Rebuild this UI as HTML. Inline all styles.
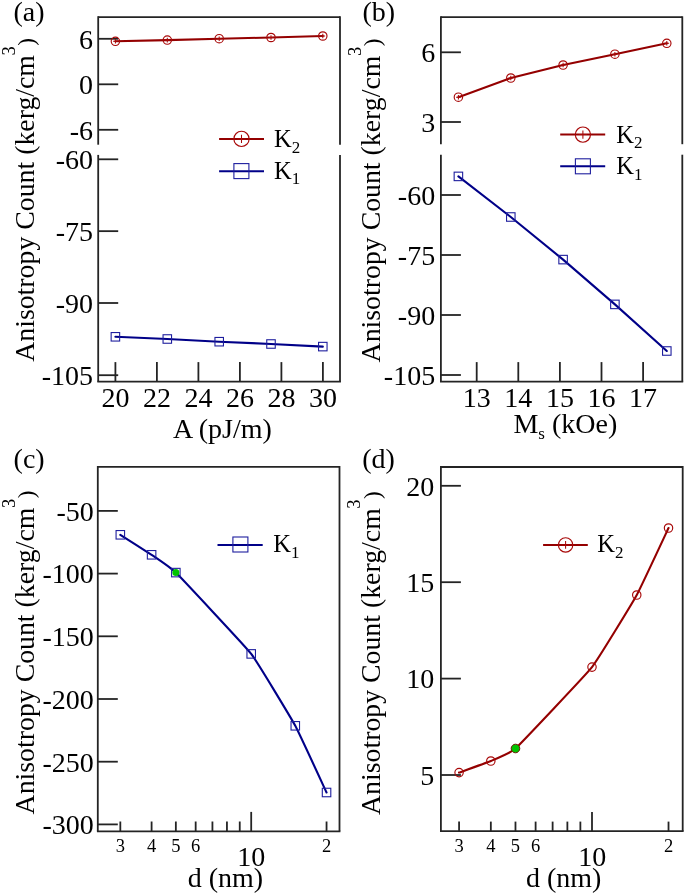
<!DOCTYPE html>
<html><head><meta charset="utf-8"><style>
html,body{margin:0;padding:0;background:#fff;}
body{width:685px;height:895px;overflow:hidden;}
svg{display:block;filter:blur(0.35px);}
text{font-family:"Liberation Serif", serif;}
</style></head><body>
<svg width="685" height="895" viewBox="0 0 685 895" font-family='"Liberation Serif", serif' fill="#000">
<rect width="685" height="895" fill="#fff"/>
<line x1="98.20" y1="17.10" x2="340.00" y2="17.10" stroke="#242424" stroke-width="1.8" stroke-linecap="butt"/>
<line x1="97.30" y1="381.70" x2="340.90" y2="381.70" stroke="#242424" stroke-width="1.8" stroke-linecap="butt"/>
<line x1="98.20" y1="16.20" x2="98.20" y2="144.70" stroke="#242424" stroke-width="1.8" stroke-linecap="butt"/>
<line x1="98.20" y1="154.90" x2="98.20" y2="381.70" stroke="#242424" stroke-width="1.8" stroke-linecap="butt"/>
<line x1="340.00" y1="16.20" x2="340.00" y2="144.70" stroke="#242424" stroke-width="1.8" stroke-linecap="butt"/>
<line x1="340.00" y1="154.90" x2="340.00" y2="381.70" stroke="#242424" stroke-width="1.8" stroke-linecap="butt"/>
<line x1="98.20" y1="38.80" x2="118.20" y2="38.80" stroke="#242424" stroke-width="1.8" stroke-linecap="butt"/>
<text x="93.10" y="48.60" font-size="28" text-anchor="end" >6</text>
<line x1="98.20" y1="84.30" x2="118.20" y2="84.30" stroke="#242424" stroke-width="1.8" stroke-linecap="butt"/>
<text x="93.10" y="94.10" font-size="28" text-anchor="end" >0</text>
<line x1="98.20" y1="129.80" x2="118.20" y2="129.80" stroke="#242424" stroke-width="1.8" stroke-linecap="butt"/>
<text x="93.10" y="139.60" font-size="28" text-anchor="end" >-6</text>
<line x1="98.20" y1="159.30" x2="118.20" y2="159.30" stroke="#242424" stroke-width="1.8" stroke-linecap="butt"/>
<text x="93.10" y="169.10" font-size="28" text-anchor="end" >-60</text>
<line x1="98.20" y1="231.15" x2="118.20" y2="231.15" stroke="#242424" stroke-width="1.8" stroke-linecap="butt"/>
<text x="93.10" y="240.95" font-size="28" text-anchor="end" >-75</text>
<line x1="98.20" y1="303.00" x2="118.20" y2="303.00" stroke="#242424" stroke-width="1.8" stroke-linecap="butt"/>
<text x="93.10" y="312.80" font-size="28" text-anchor="end" >-90</text>
<line x1="98.20" y1="375.20" x2="118.20" y2="375.20" stroke="#242424" stroke-width="1.8" stroke-linecap="butt"/>
<text x="93.10" y="385.00" font-size="28" text-anchor="end" >-105</text>
<line x1="115.40" y1="381.70" x2="115.40" y2="362.10" stroke="#242424" stroke-width="1.8" stroke-linecap="butt"/>
<text x="115.40" y="407.20" font-size="28" text-anchor="middle" >20</text>
<line x1="156.90" y1="381.70" x2="156.90" y2="362.10" stroke="#242424" stroke-width="1.8" stroke-linecap="butt"/>
<text x="156.90" y="407.20" font-size="28" text-anchor="middle" >22</text>
<line x1="198.40" y1="381.70" x2="198.40" y2="362.10" stroke="#242424" stroke-width="1.8" stroke-linecap="butt"/>
<text x="198.40" y="407.20" font-size="28" text-anchor="middle" >24</text>
<line x1="239.90" y1="381.70" x2="239.90" y2="362.10" stroke="#242424" stroke-width="1.8" stroke-linecap="butt"/>
<text x="239.90" y="407.20" font-size="28" text-anchor="middle" >26</text>
<line x1="281.40" y1="381.70" x2="281.40" y2="362.10" stroke="#242424" stroke-width="1.8" stroke-linecap="butt"/>
<text x="281.40" y="407.20" font-size="28" text-anchor="middle" >28</text>
<line x1="322.90" y1="381.70" x2="322.90" y2="362.10" stroke="#242424" stroke-width="1.8" stroke-linecap="butt"/>
<text x="322.90" y="407.20" font-size="28" text-anchor="middle" >30</text>
<text x="222.50" y="437.70" font-size="28" text-anchor="middle" >A (pJ/m)</text>
<text transform="translate(34.00,361.80) rotate(-90)" x="0" y="0" font-size="27.8">Anisotropy Count (kerg/cm<tspan font-size="18.5" dy="-19.5" dx="-0.4">3</tspan><tspan font-size="23" dy="19.5" dx="0.5">)</tspan></text>
<text x="13.50" y="20.60" font-size="28" text-anchor="start" >(a)</text>
<polyline points="115.40,41.30 167.30,40.10 219.20,38.70 271.00,37.50 322.80,36.00" fill="none" stroke="#940000" stroke-width="2.1" stroke-linejoin="round" stroke-linecap="round"/>
<circle cx="115.40" cy="41.30" r="4.2" fill="none" stroke="#a80808" stroke-width="1.15"/>
<path d="M113.09,41.30H117.71M115.40,38.99V43.61" stroke="#a80808" stroke-width="1.03"/>
<circle cx="167.30" cy="40.10" r="4.2" fill="none" stroke="#a80808" stroke-width="1.15"/>
<path d="M164.99,40.10H169.61M167.30,37.79V42.41" stroke="#a80808" stroke-width="1.03"/>
<circle cx="219.20" cy="38.70" r="4.2" fill="none" stroke="#a80808" stroke-width="1.15"/>
<path d="M216.89,38.70H221.51M219.20,36.39V41.01" stroke="#a80808" stroke-width="1.03"/>
<circle cx="271.00" cy="37.50" r="4.2" fill="none" stroke="#a80808" stroke-width="1.15"/>
<path d="M268.69,37.50H273.31M271.00,35.19V39.81" stroke="#a80808" stroke-width="1.03"/>
<circle cx="322.80" cy="36.00" r="4.2" fill="none" stroke="#a80808" stroke-width="1.15"/>
<path d="M320.49,36.00H325.11M322.80,33.69V38.31" stroke="#a80808" stroke-width="1.03"/>
<polyline points="115.40,336.80 167.30,339.00 219.20,341.70 271.00,344.00 322.80,346.60" fill="none" stroke="#000088" stroke-width="2.1" stroke-linejoin="round" stroke-linecap="round"/>
<rect x="111.15" y="332.55" width="8.5" height="8.5" fill="none" stroke="#1e1e9e" stroke-width="1.1"/>
<rect x="163.05" y="334.75" width="8.5" height="8.5" fill="none" stroke="#1e1e9e" stroke-width="1.1"/>
<rect x="214.95" y="337.45" width="8.5" height="8.5" fill="none" stroke="#1e1e9e" stroke-width="1.1"/>
<rect x="266.75" y="339.75" width="8.5" height="8.5" fill="none" stroke="#1e1e9e" stroke-width="1.1"/>
<rect x="318.55" y="342.35" width="8.5" height="8.5" fill="none" stroke="#1e1e9e" stroke-width="1.1"/>
<line x1="219.10" y1="138.90" x2="264.00" y2="138.90" stroke="#940000" stroke-width="2.0" stroke-linecap="butt"/>
<circle cx="241.50" cy="138.90" r="7.6" fill="none" stroke="#a80808" stroke-width="1.15"/>
<path d="M237.32,138.90H245.68M241.50,134.72V143.08" stroke="#a80808" stroke-width="1.03"/>
<text x="274.00" y="146.80" font-size="24.5">K<tspan font-size="17" dy="5.7">2</tspan></text>
<line x1="219.10" y1="171.20" x2="264.00" y2="171.20" stroke="#000088" stroke-width="2.0" stroke-linecap="butt"/>
<rect x="233.90" y="163.60" width="15.0" height="15.0" fill="none" stroke="#1e1e9e" stroke-width="1.1"/>
<text x="274.00" y="178.60" font-size="24.5">K<tspan font-size="17" dy="5.7">1</tspan></text>
<line x1="440.90" y1="17.20" x2="682.30" y2="17.20" stroke="#242424" stroke-width="1.8" stroke-linecap="butt"/>
<line x1="440.00" y1="381.70" x2="683.20" y2="381.70" stroke="#242424" stroke-width="1.8" stroke-linecap="butt"/>
<line x1="440.90" y1="16.30" x2="440.90" y2="144.20" stroke="#242424" stroke-width="1.8" stroke-linecap="butt"/>
<line x1="440.90" y1="154.70" x2="440.90" y2="381.70" stroke="#242424" stroke-width="1.8" stroke-linecap="butt"/>
<line x1="682.30" y1="16.30" x2="682.30" y2="144.20" stroke="#242424" stroke-width="1.8" stroke-linecap="butt"/>
<line x1="682.30" y1="154.70" x2="682.30" y2="381.70" stroke="#242424" stroke-width="1.8" stroke-linecap="butt"/>
<line x1="440.90" y1="52.30" x2="460.90" y2="52.30" stroke="#242424" stroke-width="1.8" stroke-linecap="butt"/>
<text x="435.20" y="62.10" font-size="28" text-anchor="end" >6</text>
<line x1="440.90" y1="122.00" x2="460.90" y2="122.00" stroke="#242424" stroke-width="1.8" stroke-linecap="butt"/>
<text x="435.20" y="131.80" font-size="28" text-anchor="end" >3</text>
<line x1="440.90" y1="195.00" x2="460.90" y2="195.00" stroke="#242424" stroke-width="1.8" stroke-linecap="butt"/>
<text x="435.20" y="204.80" font-size="28" text-anchor="end" >-60</text>
<line x1="440.90" y1="255.00" x2="460.90" y2="255.00" stroke="#242424" stroke-width="1.8" stroke-linecap="butt"/>
<text x="435.20" y="264.80" font-size="28" text-anchor="end" >-75</text>
<line x1="440.90" y1="315.00" x2="460.90" y2="315.00" stroke="#242424" stroke-width="1.8" stroke-linecap="butt"/>
<text x="435.20" y="324.80" font-size="28" text-anchor="end" >-90</text>
<line x1="440.90" y1="375.00" x2="460.90" y2="375.00" stroke="#242424" stroke-width="1.8" stroke-linecap="butt"/>
<text x="435.20" y="384.80" font-size="28" text-anchor="end" >-105</text>
<line x1="476.70" y1="381.70" x2="476.70" y2="362.10" stroke="#242424" stroke-width="1.8" stroke-linecap="butt"/>
<text x="476.70" y="407.20" font-size="28" text-anchor="middle" >13</text>
<line x1="518.30" y1="381.70" x2="518.30" y2="362.10" stroke="#242424" stroke-width="1.8" stroke-linecap="butt"/>
<text x="518.30" y="407.20" font-size="28" text-anchor="middle" >14</text>
<line x1="559.90" y1="381.70" x2="559.90" y2="362.10" stroke="#242424" stroke-width="1.8" stroke-linecap="butt"/>
<text x="559.90" y="407.20" font-size="28" text-anchor="middle" >15</text>
<line x1="601.50" y1="381.70" x2="601.50" y2="362.10" stroke="#242424" stroke-width="1.8" stroke-linecap="butt"/>
<text x="601.50" y="407.20" font-size="28" text-anchor="middle" >16</text>
<line x1="643.10" y1="381.70" x2="643.10" y2="362.10" stroke="#242424" stroke-width="1.8" stroke-linecap="butt"/>
<text x="643.10" y="407.20" font-size="28" text-anchor="middle" >17</text>
<text x="565.3" y="433.2" font-size="28" text-anchor="middle">M<tspan font-size="17" dy="5.5">s</tspan><tspan dy="-5.5"> (kOe)</tspan></text>
<text transform="translate(380.20,362.40) rotate(-90)" x="0" y="0" font-size="27.8">Anisotropy Count (kerg/cm<tspan font-size="18.5" dy="-19.5" dx="-0.4">3</tspan><tspan font-size="23" dy="19.5" dx="0.5">)</tspan></text>
<text x="362.50" y="20.80" font-size="28" text-anchor="start" >(b)</text>
<polyline points="458.40,97.20 510.80,78.00 563.10,65.00 614.90,54.20 666.80,43.30" fill="none" stroke="#940000" stroke-width="2.1" stroke-linejoin="round" stroke-linecap="round"/>
<circle cx="458.40" cy="97.20" r="4.2" fill="none" stroke="#a80808" stroke-width="1.15"/>
<path d="M456.09,97.20H460.71M458.40,94.89V99.51" stroke="#a80808" stroke-width="1.03"/>
<circle cx="510.80" cy="78.00" r="4.2" fill="none" stroke="#a80808" stroke-width="1.15"/>
<path d="M508.49,78.00H513.11M510.80,75.69V80.31" stroke="#a80808" stroke-width="1.03"/>
<circle cx="563.10" cy="65.00" r="4.2" fill="none" stroke="#a80808" stroke-width="1.15"/>
<path d="M560.79,65.00H565.41M563.10,62.69V67.31" stroke="#a80808" stroke-width="1.03"/>
<circle cx="614.90" cy="54.20" r="4.2" fill="none" stroke="#a80808" stroke-width="1.15"/>
<path d="M612.59,54.20H617.21M614.90,51.89V56.51" stroke="#a80808" stroke-width="1.03"/>
<circle cx="666.80" cy="43.30" r="4.2" fill="none" stroke="#a80808" stroke-width="1.15"/>
<path d="M664.49,43.30H669.11M666.80,40.99V45.61" stroke="#a80808" stroke-width="1.03"/>
<polyline points="458.40,176.40 510.80,217.00 563.10,259.60 614.90,304.40 666.80,351.00" fill="none" stroke="#000088" stroke-width="2.1" stroke-linejoin="round" stroke-linecap="round"/>
<rect x="454.15" y="172.15" width="8.5" height="8.5" fill="none" stroke="#1e1e9e" stroke-width="1.1"/>
<rect x="506.55" y="212.75" width="8.5" height="8.5" fill="none" stroke="#1e1e9e" stroke-width="1.1"/>
<rect x="558.85" y="255.35" width="8.5" height="8.5" fill="none" stroke="#1e1e9e" stroke-width="1.1"/>
<rect x="610.65" y="300.15" width="8.5" height="8.5" fill="none" stroke="#1e1e9e" stroke-width="1.1"/>
<rect x="662.55" y="346.75" width="8.5" height="8.5" fill="none" stroke="#1e1e9e" stroke-width="1.1"/>
<line x1="560.20" y1="134.60" x2="605.20" y2="134.60" stroke="#940000" stroke-width="2.0" stroke-linecap="butt"/>
<circle cx="582.90" cy="134.60" r="7.6" fill="none" stroke="#a80808" stroke-width="1.15"/>
<path d="M578.72,134.60H587.08M582.90,130.42V138.78" stroke="#a80808" stroke-width="1.03"/>
<text x="616.20" y="142.70" font-size="24.5">K<tspan font-size="17" dy="5.7">2</tspan></text>
<line x1="560.20" y1="166.30" x2="605.20" y2="166.30" stroke="#000088" stroke-width="2.0" stroke-linecap="butt"/>
<rect x="575.40" y="158.80" width="15.0" height="15.0" fill="none" stroke="#1e1e9e" stroke-width="1.1"/>
<text x="616.20" y="174.20" font-size="24.5">K<tspan font-size="17" dy="5.7">1</tspan></text>
<line x1="97.80" y1="466.80" x2="339.50" y2="466.80" stroke="#242424" stroke-width="1.8" stroke-linecap="butt"/>
<line x1="96.90" y1="831.30" x2="340.40" y2="831.30" stroke="#242424" stroke-width="1.8" stroke-linecap="butt"/>
<line x1="97.80" y1="465.90" x2="97.80" y2="831.30" stroke="#242424" stroke-width="1.8" stroke-linecap="butt"/>
<line x1="339.50" y1="465.90" x2="339.50" y2="831.30" stroke="#242424" stroke-width="1.8" stroke-linecap="butt"/>
<line x1="97.80" y1="510.90" x2="117.80" y2="510.90" stroke="#242424" stroke-width="1.8" stroke-linecap="butt"/>
<text x="93.80" y="520.70" font-size="28" text-anchor="end" >-50</text>
<line x1="97.80" y1="573.60" x2="117.80" y2="573.60" stroke="#242424" stroke-width="1.8" stroke-linecap="butt"/>
<text x="93.80" y="583.40" font-size="28" text-anchor="end" >-100</text>
<line x1="97.80" y1="636.30" x2="117.80" y2="636.30" stroke="#242424" stroke-width="1.8" stroke-linecap="butt"/>
<text x="93.80" y="646.10" font-size="28" text-anchor="end" >-150</text>
<line x1="97.80" y1="699.00" x2="117.80" y2="699.00" stroke="#242424" stroke-width="1.8" stroke-linecap="butt"/>
<text x="93.80" y="708.80" font-size="28" text-anchor="end" >-200</text>
<line x1="97.80" y1="761.70" x2="117.80" y2="761.70" stroke="#242424" stroke-width="1.8" stroke-linecap="butt"/>
<text x="93.80" y="771.50" font-size="28" text-anchor="end" >-250</text>
<line x1="97.80" y1="824.40" x2="117.80" y2="824.40" stroke="#242424" stroke-width="1.8" stroke-linecap="butt"/>
<text x="93.80" y="834.20" font-size="28" text-anchor="end" >-300</text>
<line x1="120.32" y1="831.30" x2="120.32" y2="821.50" stroke="#242424" stroke-width="1.8" stroke-linecap="butt"/>
<line x1="151.60" y1="831.30" x2="151.60" y2="821.50" stroke="#242424" stroke-width="1.8" stroke-linecap="butt"/>
<line x1="175.85" y1="831.30" x2="175.85" y2="821.50" stroke="#242424" stroke-width="1.8" stroke-linecap="butt"/>
<line x1="195.67" y1="831.30" x2="195.67" y2="821.50" stroke="#242424" stroke-width="1.8" stroke-linecap="butt"/>
<line x1="212.43" y1="831.30" x2="212.43" y2="821.50" stroke="#242424" stroke-width="1.8" stroke-linecap="butt"/>
<line x1="226.94" y1="831.30" x2="226.94" y2="821.50" stroke="#242424" stroke-width="1.8" stroke-linecap="butt"/>
<line x1="239.75" y1="831.30" x2="239.75" y2="821.50" stroke="#242424" stroke-width="1.8" stroke-linecap="butt"/>
<line x1="326.55" y1="831.30" x2="326.55" y2="821.50" stroke="#242424" stroke-width="1.8" stroke-linecap="butt"/>
<line x1="251.20" y1="831.30" x2="251.20" y2="811.90" stroke="#242424" stroke-width="1.8" stroke-linecap="butt"/>
<text x="120.32" y="851.80" font-size="18.5" text-anchor="middle" >3</text>
<text x="151.60" y="851.80" font-size="18.5" text-anchor="middle" >4</text>
<text x="175.85" y="851.80" font-size="18.5" text-anchor="middle" >5</text>
<text x="195.67" y="851.80" font-size="18.5" text-anchor="middle" >6</text>
<text x="326.55" y="851.80" font-size="18.5" text-anchor="middle" >2</text>
<text x="251.20" y="865.60" font-size="28" text-anchor="middle" >10</text>
<text x="225.40" y="887.10" font-size="28" text-anchor="middle" >d (nm)</text>
<text transform="translate(34.00,814.40) rotate(-90)" x="0" y="0" font-size="27.8">Anisotropy Count (kerg/cm<tspan font-size="18.5" dy="-19.5" dx="-0.4">3</tspan><tspan font-size="23" dy="19.5" dx="0.5">)</tspan></text>
<text x="13.60" y="468.40" font-size="28" text-anchor="start" >(c)</text>
<path d="M120.32,534.80 C121.89,535.80 148.82,552.91 151.60,554.80 C154.37,556.69 170.87,567.64 175.85,572.60 C180.83,577.56 245.23,646.24 251.20,653.90 C257.17,661.56 291.51,718.87 295.28,725.80 C299.04,732.73 324.98,789.16 326.55,792.50" fill="none" stroke="#000088" stroke-width="2.1" stroke-linejoin="round" stroke-linecap="round"/>
<rect x="116.07" y="530.55" width="8.5" height="8.5" fill="none" stroke="#1e1e9e" stroke-width="1.1"/>
<rect x="147.35" y="550.55" width="8.5" height="8.5" fill="none" stroke="#1e1e9e" stroke-width="1.1"/>
<rect x="171.60" y="568.35" width="8.5" height="8.5" fill="none" stroke="#1e1e9e" stroke-width="1.1"/>
<circle cx="175.85" cy="572.60" r="3.5" fill="#00c400"/>
<rect x="246.95" y="649.65" width="8.5" height="8.5" fill="none" stroke="#1e1e9e" stroke-width="1.1"/>
<rect x="291.03" y="721.55" width="8.5" height="8.5" fill="none" stroke="#1e1e9e" stroke-width="1.1"/>
<rect x="322.30" y="788.25" width="8.5" height="8.5" fill="none" stroke="#1e1e9e" stroke-width="1.1"/>
<line x1="217.50" y1="544.90" x2="262.70" y2="544.90" stroke="#000088" stroke-width="2.0" stroke-linecap="butt"/>
<rect x="232.90" y="537.00" width="15.0" height="15.0" fill="none" stroke="#1e1e9e" stroke-width="1.1"/>
<text x="273.20" y="552.40" font-size="24.5">K<tspan font-size="17" dy="5.7">1</tspan></text>
<line x1="440.90" y1="467.00" x2="682.70" y2="467.00" stroke="#242424" stroke-width="1.8" stroke-linecap="butt"/>
<line x1="440.00" y1="831.20" x2="683.60" y2="831.20" stroke="#242424" stroke-width="1.8" stroke-linecap="butt"/>
<line x1="440.90" y1="466.10" x2="440.90" y2="831.20" stroke="#242424" stroke-width="1.8" stroke-linecap="butt"/>
<line x1="682.70" y1="466.10" x2="682.70" y2="831.20" stroke="#242424" stroke-width="1.8" stroke-linecap="butt"/>
<line x1="440.90" y1="485.80" x2="460.90" y2="485.80" stroke="#242424" stroke-width="1.8" stroke-linecap="butt"/>
<text x="434.20" y="495.60" font-size="28" text-anchor="end" >20</text>
<line x1="440.90" y1="582.20" x2="460.90" y2="582.20" stroke="#242424" stroke-width="1.8" stroke-linecap="butt"/>
<text x="434.20" y="592.00" font-size="28" text-anchor="end" >15</text>
<line x1="440.90" y1="678.60" x2="460.90" y2="678.60" stroke="#242424" stroke-width="1.8" stroke-linecap="butt"/>
<text x="434.20" y="688.40" font-size="28" text-anchor="end" >10</text>
<line x1="440.90" y1="775.00" x2="460.90" y2="775.00" stroke="#242424" stroke-width="1.8" stroke-linecap="butt"/>
<text x="434.20" y="784.80" font-size="28" text-anchor="end" >5</text>
<line x1="459.08" y1="831.20" x2="459.08" y2="821.60" stroke="#242424" stroke-width="1.8" stroke-linecap="butt"/>
<line x1="490.84" y1="831.20" x2="490.84" y2="821.60" stroke="#242424" stroke-width="1.8" stroke-linecap="butt"/>
<line x1="515.48" y1="831.20" x2="515.48" y2="821.60" stroke="#242424" stroke-width="1.8" stroke-linecap="butt"/>
<line x1="535.61" y1="831.20" x2="535.61" y2="821.60" stroke="#242424" stroke-width="1.8" stroke-linecap="butt"/>
<line x1="552.62" y1="831.20" x2="552.62" y2="821.60" stroke="#242424" stroke-width="1.8" stroke-linecap="butt"/>
<line x1="567.37" y1="831.20" x2="567.37" y2="821.60" stroke="#242424" stroke-width="1.8" stroke-linecap="butt"/>
<line x1="580.37" y1="831.20" x2="580.37" y2="821.60" stroke="#242424" stroke-width="1.8" stroke-linecap="butt"/>
<line x1="668.52" y1="831.20" x2="668.52" y2="821.60" stroke="#242424" stroke-width="1.8" stroke-linecap="butt"/>
<line x1="592.00" y1="831.20" x2="592.00" y2="812.00" stroke="#242424" stroke-width="1.8" stroke-linecap="butt"/>
<text x="459.08" y="851.80" font-size="18.5" text-anchor="middle" >3</text>
<text x="490.84" y="851.80" font-size="18.5" text-anchor="middle" >4</text>
<text x="515.48" y="851.80" font-size="18.5" text-anchor="middle" >5</text>
<text x="535.61" y="851.80" font-size="18.5" text-anchor="middle" >6</text>
<text x="668.52" y="851.80" font-size="18.5" text-anchor="middle" >2</text>
<text x="592.30" y="865.60" font-size="28" text-anchor="middle" >10</text>
<text x="563.60" y="887.30" font-size="28" text-anchor="middle" >d (nm)</text>
<text transform="translate(379.60,815.00) rotate(-90)" x="0" y="0" font-size="27.8">Anisotropy Count (kerg/cm<tspan font-size="18.5" dy="-19.5" dx="-0.4">3</tspan><tspan font-size="23" dy="19.5" dx="0.5">)</tspan></text>
<text x="362.20" y="468.40" font-size="28" text-anchor="start" >(d)</text>
<path d="M459.08,772.60 C460.67,772.02 488.02,762.21 490.84,761.00 C493.66,759.79 510.42,753.20 515.48,748.50 C520.54,743.80 585.94,674.77 592.00,667.10 C598.06,659.43 632.94,601.96 636.76,595.00 C640.59,588.04 666.93,531.35 668.52,528.00" fill="none" stroke="#940000" stroke-width="2.1" stroke-linejoin="round" stroke-linecap="round"/>
<circle cx="459.08" cy="772.60" r="4.2" fill="none" stroke="#a80808" stroke-width="1.15"/>
<circle cx="490.84" cy="761.00" r="4.2" fill="none" stroke="#a80808" stroke-width="1.15"/>
<circle cx="515.48" cy="748.50" r="4.3" fill="#00c400" stroke="#6a1a08" stroke-width="1"/>
<circle cx="592.00" cy="667.10" r="4.2" fill="none" stroke="#a80808" stroke-width="1.15"/>
<circle cx="636.76" cy="595.00" r="4.2" fill="none" stroke="#a80808" stroke-width="1.15"/>
<circle cx="668.52" cy="528.00" r="4.2" fill="none" stroke="#a80808" stroke-width="1.15"/>
<line x1="543.10" y1="544.90" x2="587.80" y2="544.90" stroke="#940000" stroke-width="2.0" stroke-linecap="butt"/>
<circle cx="565.60" cy="544.90" r="7.2" fill="none" stroke="#a80808" stroke-width="1.15"/>
<path d="M561.64,544.90H569.56M565.60,540.94V548.86" stroke="#a80808" stroke-width="1.03"/>
<text x="597.20" y="552.40" font-size="24.5">K<tspan font-size="17" dy="5.7">2</tspan></text>
</svg>
</body></html>
